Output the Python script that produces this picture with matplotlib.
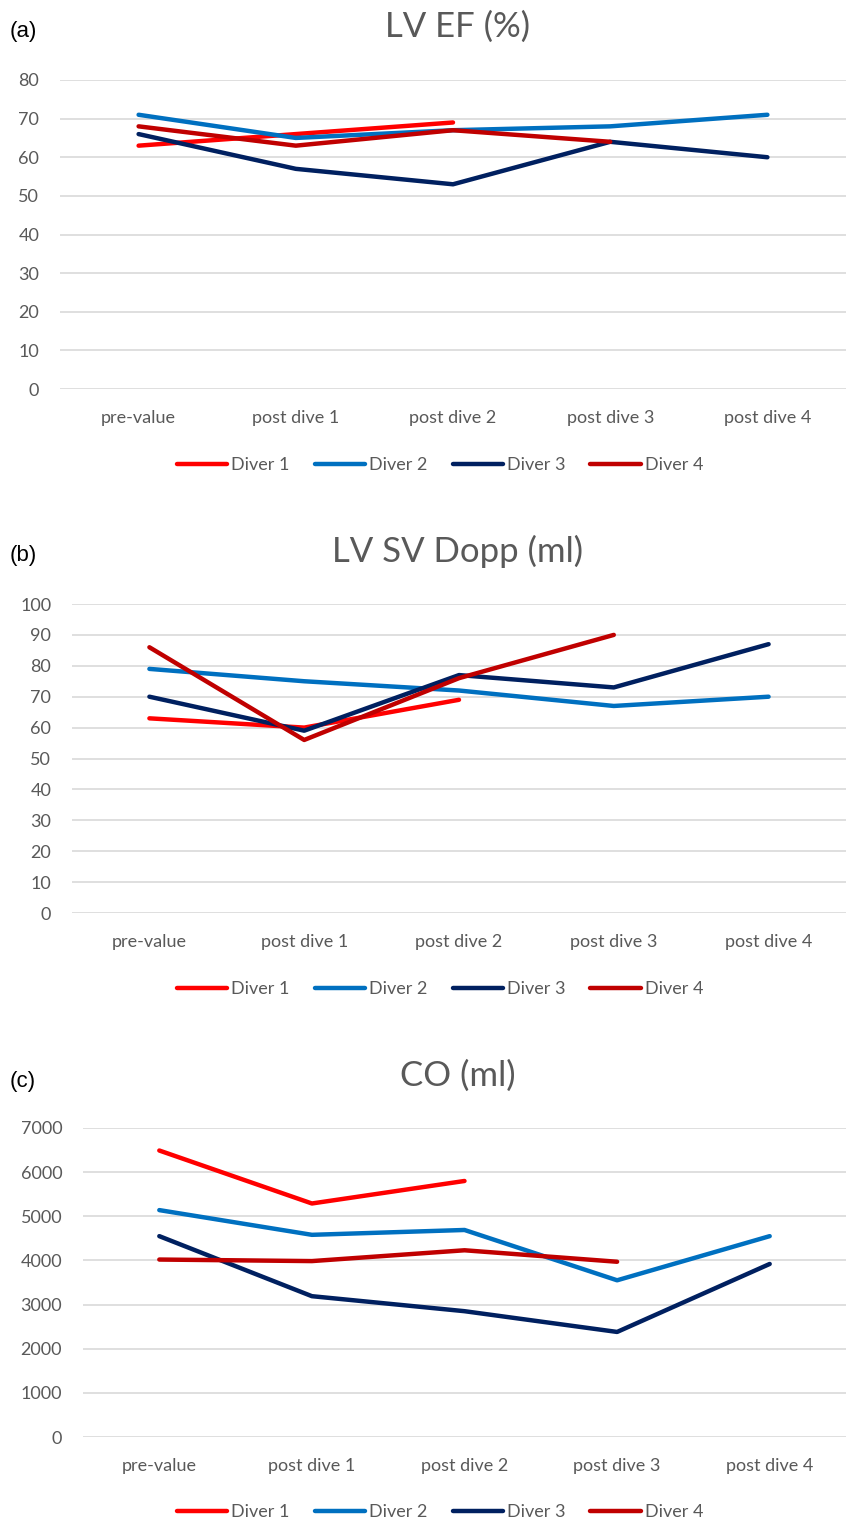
import matplotlib.pyplot as plt

plt.rcParams['font.family'] = ['Lato', 'DejaVu Sans']

categories = ["pre-value", "post dive 1", "post dive 2", "post dive 3", "post dive 4"]
divers = ["Diver 1", "Diver 2", "Diver 3", "Diver 4"]
colors = ["#FF0000", "#0070C0", "#002060", "#C00000"]

# LV EF (%)
ef_d1 = [63, 66, 69]
ef_d2 = [71, 65, 67, 68, 71]
ef_d3 = [66, 57, 53, 64, 60]
ef_d4 = [68, 63, 67, 64]

# LV SV Dopp (ml)
sv_d1 = [63, 60, 69]
sv_d2 = [79, 75, 72, 67, 70]
sv_d3 = [70, 59, 77, 73, 87]
sv_d4 = [86, 56, 76, 90]

# CO (ml)
co_d1 = [6490, 5290, 5800]
co_d2 = [5140, 4580, 4690, 3550, 4550]
co_d3 = [4550, 3190, 2850, 2380, 3920]
co_d4 = [4020, 3985, 4230, 3970]

W, H = 846, 1522
fig = plt.figure(figsize=(W / 100, H / 100), dpi=100)

panels = [
    # title, letter, series, ymax, step, left px, top px, title y, legend y
    ("LV EF (%)", "(a)", [ef_d1, ef_d2, ef_d3, ef_d4], 80, 10, 60, 80, 27, 465),
    ("LV SV Dopp (ml)", "(b)", [sv_d1, sv_d2, sv_d3, sv_d4], 100, 10, 72, 604, 551, 989),
    ("CO (ml)", "(c)", [co_d1, co_d2, co_d3, co_d4], 7000, 1000, 83, 1128, 1076, 1512),
]

grey = "#595959"
for title, letter, series, ymax, step, left, top, ty, ly in panels:
    bottom = top + 309
    ax = fig.add_axes([left / W, 1 - bottom / H, (W - left) / W, 309 / H])
    lines = []
    for vals, name, c in zip(series, divers, colors):
        ln, = ax.plot(range(len(vals)), vals, color=c, lw=3.2,
                      solid_capstyle="round", label=name)
        lines.append(ln)
    ax.set_xlim(-0.5, 4.5)
    ax.set_ylim(0, ymax)
    ax.set_yticks(range(0, ymax + 1, step))
    ax.set_xticks(range(len(categories)))
    ax.set_xticklabels(categories)
    ax.grid(axis="y", color="#D9D9D9", lw=1.2)
    ax.set_axisbelow(True)
    for s in ax.spines.values():
        s.set_visible(False)
    ax.tick_params(length=0, colors=grey, labelsize=13)
    ax.tick_params(axis="y", pad=15)
    ax.tick_params(axis="x", pad=15)
    for ln in lines:
        ln.set_clip_on(False)

    fig.text(458 / W, 1 - ty / H, title, ha="center", va="center",
             fontsize=25, color=grey)
    fig.text(10 / W, 1 - (ty + 5) / H, letter, ha="left", va="center",
             fontsize=16, color="black", family=["Liberation Sans", "DejaVu Sans"])
    fig.legend(handles=lines, loc="center", bbox_to_anchor=(440 / W, 1 - ly / H),
               ncol=4, frameon=False, fontsize=13, handlelength=2.8,
               handletextpad=0.2, columnspacing=1.4, labelcolor=grey)

fig.savefig("out.png", dpi=100)
